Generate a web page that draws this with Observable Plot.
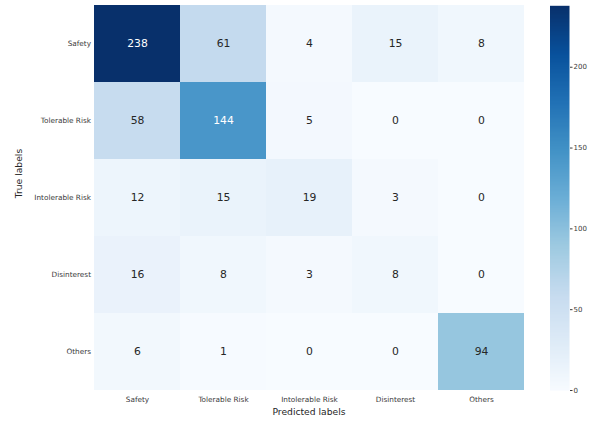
<!DOCTYPE html>
<html>
<head>
<meta charset="utf-8">
<script src="https://cdn.jsdelivr.net/npm/d3@7"></script>
<script src="https://cdn.jsdelivr.net/npm/@observablehq/plot@0.6"></script>
<style>
  html, body { margin: 0; padding: 0; background: #fff; }
  #wrap { position: relative; width: 591px; height: 424px; overflow: hidden; }
  #wrap svg { position: absolute; top: 0; }
</style>
</head>
<body>
<div id="wrap"></div>
<script>
const predictedLabels = ["Safety", "Tolerable Risk", "Intolerable Risk", "Disinterest", "Others"];
const trueLabels = ["Safety", "Tolerable Risk", "Intolerable Risk", "Disinterest", "Others"];
const rowSafety = [238, 61, 4, 15, 8];
const rowTolerable = [58, 144, 5, 0, 0];
const rowIntolerable = [12, 15, 19, 3, 0];
const rowDisinterest = [16, 8, 3, 8, 0];
const rowOthers = [6, 1, 0, 0, 94];
const colorbarTicks = [0, 50, 100, 150, 200];

const rows = [rowSafety, rowTolerable, rowIntolerable, rowDisinterest, rowOthers];
const cells = [];
rows.forEach((r, i) => r.forEach((v, j) => cells.push({t: trueLabels[i], p: predictedLabels[j], v})));

const vmax = d3.max(cells, d => d.v);
const blues9 = ["#f7fbff","#deebf7","#c6dbef","#9ecae1","#6baed6","#4292c6","#2171b5","#08519c","#08306b"];
const interp = d3.piecewise(d3.interpolateRgb, blues9);
const colorScale = {type: "linear", domain: [0, vmax], interpolate: () => interp};

function lum(c) {
  const rgb = d3.rgb(c);
  const f = x => { x /= 255; return x <= 0.03928 ? x / 12.92 : Math.pow((x + 0.055) / 1.055, 2.4); };
  return 0.2126 * f(rgb.r) + 0.7152 * f(rgb.g) + 0.0722 * f(rgb.b);
}
const textColor = d => lum(interp(d.v / vmax)) > 0.408 ? "#262626" : "#ffffff";

const font = "DejaVu Sans, sans-serif";
const tickColor = "#3a3a3a";
const W = 530, H = 424;
const main = Plot.plot({
  width: W, height: H,
  marginLeft: 93, marginRight: W - 524, marginTop: 5, marginBottom: 33.5,
  style: {fontFamily: font, background: "transparent"},
  x: {type: "band", domain: predictedLabels, padding: 0, axis: null},
  y: {type: "band", domain: trueLabels, padding: 0, axis: null},
  color: colorScale,
  marks: [
    Plot.cell(cells, {x: "p", y: "t", fill: "v", inset: 0}),
    Plot.text(cells, {x: "p", y: "t", text: d => String(d.v), fill: textColor, fontSize: 10.8}),
    Plot.axisX({anchor: "bottom", tickSize: 0, tickPadding: 6, fontSize: 7.3, label: null, fill: tickColor}),
    Plot.axisY({anchor: "left", tickSize: 0, tickPadding: 2.5, fontSize: 7.3, label: null, fill: tickColor}),
    Plot.text(["Predicted labels"], {frameAnchor: "bottom", dy: 23.5, fontSize: 9.2, fill: "#262626"}),
    Plot.text(["True labels"], {frameAnchor: "left", dx: -74, rotate: -90, fontSize: 9.2, fill: "#262626"})
  ]
});
main.style.left = "0px";

const CW = 71;
const bar = Plot.plot({
  width: CW, height: H,
  marginLeft: 29.5, marginRight: CW - 49, marginTop: 5.3, marginBottom: H - 390,
  style: {fontFamily: font, background: "transparent"},
  x: {domain: [0, 1], axis: null},
  y: {domain: [0, vmax], axis: null},
  color: colorScale,
  marks: [
    Plot.raster({x1: 0, x2: 1, y1: 0, y2: vmax, width: 1, height: 300, fill: (x, y) => y}),
    Plot.axisY({anchor: "right", ticks: colorbarTicks, tickSize: 2.5, tickPadding: 1.5, fontSize: 7, label: null, stroke: tickColor, fill: tickColor})
  ]
});
bar.style.left = "520px";

const wrap = document.getElementById("wrap");
wrap.appendChild(main);
wrap.appendChild(bar);
</script>
</body>
</html>
